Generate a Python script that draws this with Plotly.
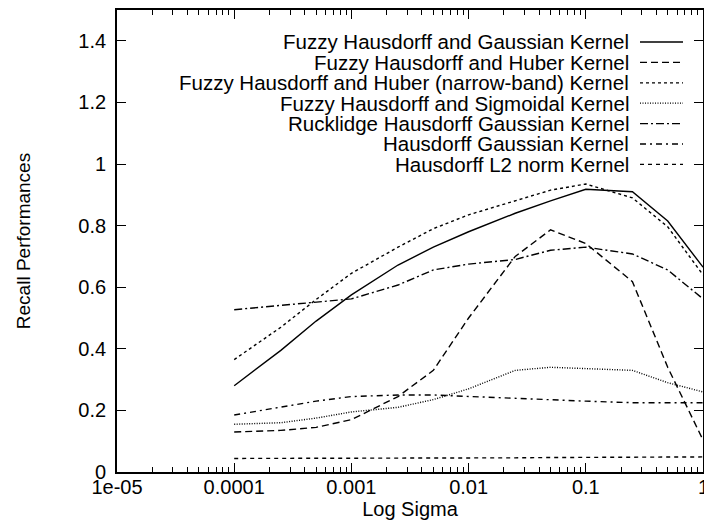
import plotly.graph_objects as go

# ---- data ----
sigma = [1e-4, 2.5e-4, 5e-4, 1e-3, 2.5e-3, 5e-3, 1e-2, 2.5e-2, 5e-2, 0.1, 0.25, 0.5, 1.0]

fuzzy_gaussian = [0.28, 0.395, 0.49, 0.575, 0.672, 0.73, 0.78, 0.84, 0.88, 0.918, 0.91, 0.815, 0.665]
fuzzy_huber = [0.13, 0.135, 0.145, 0.17, 0.245, 0.33, 0.5, 0.70, 0.786, 0.742, 0.618, 0.34, 0.104]
fuzzy_huber_nb = [0.365, 0.47, 0.56, 0.645, 0.73, 0.79, 0.835, 0.88, 0.915, 0.935, 0.89, 0.796, 0.64]
fuzzy_sigmoid = [0.155, 0.16, 0.175, 0.195, 0.21, 0.235, 0.27, 0.33, 0.34, 0.335, 0.33, 0.29, 0.26]
rucklidge = [0.527, 0.54, 0.552, 0.562, 0.607, 0.656, 0.675, 0.69, 0.72, 0.73, 0.708, 0.656, 0.562]
hausdorff_gauss = [0.185, 0.21, 0.23, 0.245, 0.25, 0.25, 0.245, 0.24, 0.235, 0.23, 0.225, 0.225, 0.225]
hausdorff_l2 = [0.044, 0.044, 0.045, 0.045, 0.045, 0.045, 0.046, 0.046, 0.047, 0.047, 0.048, 0.048, 0.049]

names = [
    "Fuzzy Hausdorff and Gaussian Kernel",
    "Fuzzy Hausdorff and Huber Kernel",
    "Fuzzy Hausdorff and Huber (narrow-band) Kernel",
    "Fuzzy Hausdorff and Sigmoidal Kernel",
    "Rucklidge Hausdorff Gaussian Kernel",
    "Hausdorff Gaussian Kernel",
    "Hausdorff L2 norm Kernel",
]
series = [fuzzy_gaussian, fuzzy_huber, fuzzy_huber_nb, fuzzy_sigmoid,
          rucklidge, hausdorff_gauss, hausdorff_l2]
dashes = ["solid", "7px,4px", "3px,3px", "1px,1.5px",
          "8px,3px,2px,3px", "6px,4px,2px,4px", "4px,4px"]

x_tickvals = [1e-5, 1e-4, 1e-3, 1e-2, 1e-1, 1]
x_ticktext = ["1e-05", "0.0001", "0.001", "0.01", "0.1", "1"]
y_tickvals = [0, 0.2, 0.4, 0.6, 0.8, 1.0, 1.2, 1.4]
y_ticktext = ["0", "0.2", "0.4", "0.6", "0.8", "1", "1.2", "1.4"]

FONT = "Liberation Sans, Arial, Helvetica, sans-serif"

fig = go.Figure()
for name, ys, d in zip(names, series, dashes):
    fig.add_trace(go.Scatter(x=sigma, y=ys, mode="lines", name=name,
                             line=dict(color="black", width=1.4, dash=d),
                             showlegend=False))

# gnuplot-style legend: right-aligned text with line sample on the right
L, T, R, B = 117, 10, 703, 472
W, H = R - L, B - T
row0, rowstep = 42, 20.4
for i, (name, d) in enumerate(zip(names, dashes)):
    ypx = row0 + i * rowstep
    yp = (B - ypx) / H
    fig.add_annotation(x=(631 - L) / W, y=yp, xref="paper", yref="paper",
                       text=name, showarrow=False, xanchor="right", yanchor="middle",
                       font=dict(family=FONT, size=20.5, color="black"))
    fig.add_shape(type="line", xref="paper", yref="paper",
                  x0=(640 - L) / W, x1=(683 - L) / W, y0=yp, y1=yp,
                  line=dict(color="black", width=1.3, dash=d))

# last x tick label sits on the page edge (partly cut, as in the original)
fig.add_annotation(x=0, y=0, xref="x", yref="paper", text=x_ticktext[-1],
                   showarrow=False, xanchor="center", yanchor="top", yshift=-2,
                   font=dict(family=FONT, size=20, color="black"))

minor_vals = [m * 10 ** e for e in range(-5, 0) for m in range(2, 10)]

fig.update_xaxes(type="log", range=[-5, 0], tickvals=x_tickvals[:-1], ticktext=x_ticktext[:-1],
                 ticks="inside", ticklen=9, tickwidth=1.2, tickcolor="black",
                 showline=True, linecolor="black", linewidth=1.8, mirror="ticks",
                 showgrid=False, zeroline=False,
                 minor=dict(tickvals=minor_vals, ticks="inside", ticklen=5,
                            tickcolor="black", tickwidth=1, showgrid=False),
                 tickfont=dict(family=FONT, size=20, color="black"),
                 ticklabelstandoff=-4,
                 title=dict(text="Log Sigma", font=dict(family=FONT, size=20, color="black"),
                            standoff=4))
fig.update_yaxes(range=[0, 1.5], tickvals=y_tickvals, ticktext=y_ticktext,
                 ticks="inside", ticklen=9, tickwidth=1.2, tickcolor="black",
                 showline=True, linecolor="black", linewidth=1.8, mirror="ticks",
                 showgrid=False, zeroline=False,
                 tickfont=dict(family=FONT, size=20, color="black"),
                 ticklabelstandoff=5,
                 title=dict(text="Recall Performances",
                            font=dict(family=FONT, size=19, color="black"),
                            standoff=43))

fig.update_layout(width=704, height=522,
                  margin=dict(l=L, r=704 - R, t=T, b=522 - B, autoexpand=False),
                  plot_bgcolor="white", paper_bgcolor="white",
                  font=dict(family=FONT, color="black"))

# tick mark at x=1 (right edge) is still drawn by the axis
fig.update_xaxes(tickvals=x_tickvals, ticktext=x_ticktext[:-1] + [""])

fig.write_html("out.html", config={"displayModeBar": False},
               post_script="document.body.style.margin='0';")
